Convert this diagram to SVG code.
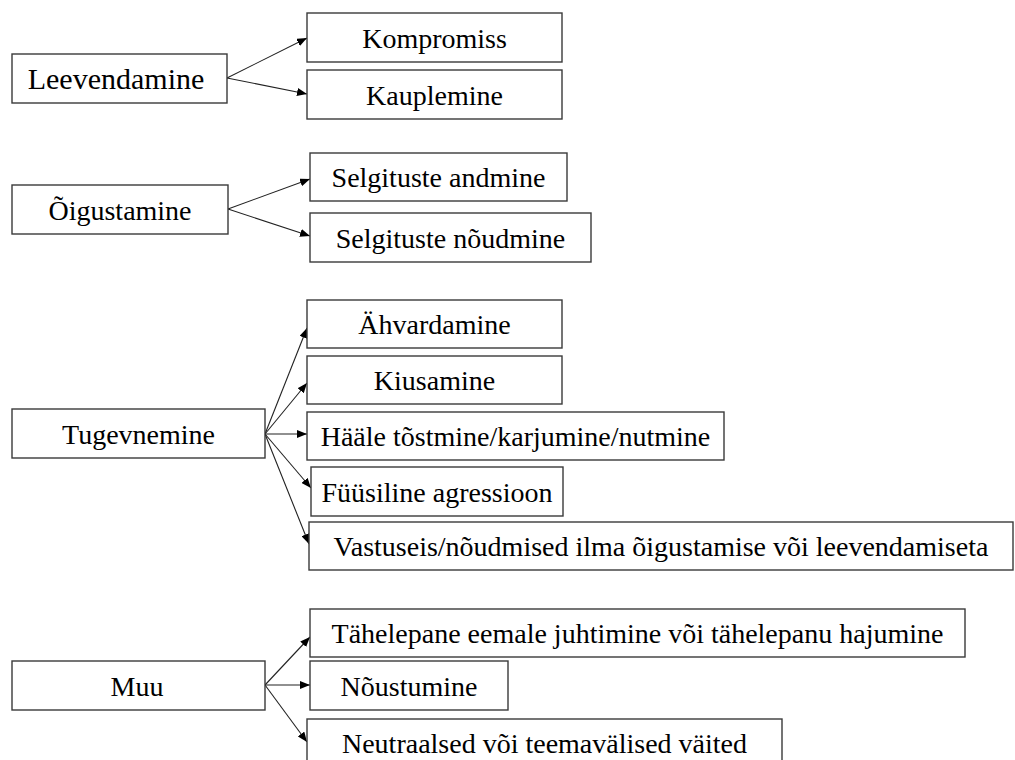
<svg xmlns="http://www.w3.org/2000/svg" width="1015" height="760" viewBox="0 0 1015 760">
<style>
.box{fill:#fff;stroke:#3a3a3a;stroke-width:1.4}
.t{font-family:"Liberation Serif","Times New Roman",serif;font-size:28px;fill:#000;text-anchor:middle}
.big{font-size:30px}
.c{fill:none;stroke:#222;stroke-width:1.1;marker-end:url(#ah)}
</style>
<defs>
<marker id="ah" markerUnits="userSpaceOnUse" markerWidth="10" markerHeight="8" refX="10" refY="4" orient="auto">
<path d="M0,0 L10,4 L0,8 Z" fill="#000"/>
</marker>
</defs>
<g id="connectors">
<line class="c" x1="227" y1="78" x2="307" y2="38"/>
<line class="c" x1="227" y1="78" x2="307" y2="94"/>
<line class="c" x1="228" y1="209" x2="310" y2="179"/>
<line class="c" x1="228" y1="209" x2="310" y2="236"/>
<line class="c" x1="265" y1="434" x2="307" y2="328"/>
<line class="c" x1="265" y1="434" x2="307" y2="383"/>
<line class="c" x1="265" y1="434" x2="307" y2="434"/>
<line class="c" x1="265" y1="434" x2="311" y2="488"/>
<line class="c" x1="265" y1="434" x2="309" y2="544"/>
<line class="c" x1="265" y1="685" x2="310" y2="637"/>
<line class="c" x1="265" y1="685" x2="310" y2="685"/>
<line class="c" x1="265" y1="685" x2="307" y2="742"/>
</g>
<g id="leevendamine"><rect class="box" x="12" y="54" width="215" height="49"/><text class="t big" x="116" y="89">Leevendamine</text></g>
<g id="kompromiss"><rect class="box" x="307" y="13" width="255" height="49"/><text class="t" x="434.5" y="48">Kompromiss</text></g>
<g id="kauplemine"><rect class="box" x="307" y="70" width="255" height="49"/><text class="t" x="434.5" y="105">Kauplemine</text></g>
<g id="oigustamine"><rect class="box" x="12" y="185" width="216" height="49"/><text class="t" x="120" y="220">Õigustamine</text></g>
<g id="selgituste-andmine"><rect class="box" x="310" y="153" width="257" height="48"/><text class="t" x="438.5" y="187">Selgituste andmine</text></g>
<g id="selgituste-noudmine"><rect class="box" x="310" y="213" width="281" height="49"/><text class="t" x="450.5" y="248">Selgituste nõudmine</text></g>
<g id="tugevnemine"><rect class="box" x="12" y="409" width="253" height="49"/><text class="t" x="138.5" y="444">Tugevnemine</text></g>
<g id="ahvardamine"><rect class="box" x="307" y="300" width="255" height="48"/><text class="t" x="434.5" y="334">Ähvardamine</text></g>
<g id="kiusamine"><rect class="box" x="307" y="356" width="255" height="48"/><text class="t" x="434.5" y="390">Kiusamine</text></g>
<g id="haale"><rect class="box" x="307" y="412" width="417" height="48"/><text class="t" x="515.5" y="446">Hääle tõstmine/karjumine/nutmine</text></g>
<g id="fuusiline"><rect class="box" x="311" y="467" width="252" height="49"/><text class="t" x="437" y="502">Füüsiline agressioon</text></g>
<g id="vastuseis"><rect class="box" x="309" y="522" width="704" height="48"/><text class="t" x="661" y="556">Vastuseis/nõudmised ilma õigustamise või leevendamiseta</text></g>
<g id="muu"><rect class="box" x="12" y="661" width="253" height="49"/><text class="t" x="137" y="696">Muu</text></g>
<g id="tahelepane"><rect class="box" x="310" y="609" width="655" height="48"/><text class="t" x="637.5" y="643">Tähelepane eemale juhtimine või tähelepanu hajumine</text></g>
<g id="noustumine"><rect class="box" x="310" y="661" width="198" height="49"/><text class="t" x="409" y="696">Nõustumine</text></g>
<g id="neutraalsed"><rect class="box" x="307" y="719" width="475" height="49"/><text class="t" x="544.5" y="753">Neutraalsed või teemavälised väited</text></g>
</svg>
